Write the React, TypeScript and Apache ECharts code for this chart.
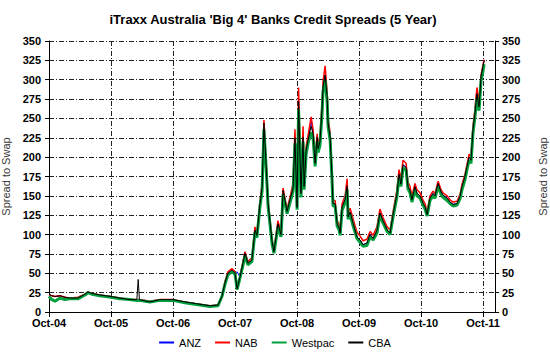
import React, { useEffect, useRef } from "react";
import * as echarts from "echarts";

const dates: string[] = [
  "2004-10-01","2004-10-18","2004-11-06","2004-12-05","2005-01-04","2005-02-02","2005-03-19","2005-04-30","2005-05-17","2005-06-10",
  "2005-07-27","2005-10-01","2005-11-23","2006-01-21","2006-03-01","2006-03-09","2006-03-16","2006-05-17","2006-07-15","2006-10-01",
  "2006-12-10","2007-02-08","2007-05-06","2007-06-22","2007-07-15","2007-08-03","2007-08-20","2007-09-13","2007-10-01","2007-10-13",
  "2007-10-30","2007-11-17","2007-11-29","2007-12-16","2008-01-09","2008-01-27","2008-02-08","2008-02-26","2008-03-08","2008-03-19",
  "2008-04-01","2008-04-13","2008-05-06","2008-05-17","2008-06-10","2008-06-28","2008-07-10","2008-08-03","2008-08-20","2008-09-08",
  "2008-09-19","2008-10-01","2008-10-10","2008-10-24","2008-11-06","2008-11-12","2008-11-24","2008-12-05","2008-12-23","2009-01-04",
  "2009-01-16","2009-01-28","2009-02-03","2009-02-14","2009-02-26","2009-03-02","2009-03-14","2009-03-26","2009-04-01","2009-04-13",
  "2009-04-24","2009-04-30","2009-05-12","2009-05-24","2009-06-05","2009-06-11","2009-06-23","2009-07-10","2009-07-22","2009-07-28",
  "2009-08-09","2009-08-27","2009-09-19","2009-10-07","2009-10-24","2009-11-17","2009-12-05","2009-12-23","2010-01-15","2010-02-02",
  "2010-02-20","2010-03-14","2010-04-01","2010-04-18","2010-05-11","2010-05-23","2010-06-04","2010-06-16","2010-07-04","2010-07-15",
  "2010-07-27","2010-08-08","2010-08-26","2010-09-07","2010-09-25","2010-10-13","2010-10-24","2010-11-06","2010-11-23","2010-12-10",
  "2010-12-22","2011-01-10","2011-01-27","2011-02-08","2011-03-02","2011-03-19","2011-04-06","2011-04-30","2011-05-17","2011-05-29",
  "2011-06-16","2011-06-28","2011-07-10","2011-07-21","2011-08-02","2011-08-14","2011-08-20","2011-08-26","2011-09-07","2011-09-13",
  "2011-09-19","2011-10-01","2011-10-07",
];

const anz: number[] = [
  23,21,20,21,19,18,18,23,26,24,
  22,20,18,16,16,16,16,13,16,16,
  13,11,8,9,20,38,50,54,50,52,
  45,63,76,63,67,106,99,140,160,244,
  192,140,91,78,114,100,157,130,145,160,
  225,135,272,153,226,162,209,222,247,230,
  192,226,211,220,261,291,306,278,244,226,
  175,140,140,114,109,102,136,145,163,123,
  129,114,97,93,87,89,100,95,105,128,
  118,106,102,125,152,178,165,190,187,162,
  157,145,162,153,150,140,136,126,147,153,
  150,166,155,151,147,142,139,140,149,162,
  175,188,200,196,235,257,270,282,265,282,
  304,318,325,
];

const nab: number[] = [
  22,21,20,21,19,18,19,23,26,24,
  22,20,18,16,16,16,16,14,16,16,
  13,11,8,9,21,40,52,56,52,31,
  46,65,78,65,70,110,101,143,165,248,
  196,143,94,80,118,103,160,133,148,166,
  236,138,290,156,240,166,214,228,252,236,
  196,230,216,226,268,298,318,284,250,232,
  180,144,144,118,113,106,140,150,172,128,
  134,120,103,98,92,94,104,99,110,133,
  122,110,106,129,158,184,172,196,192,168,
  162,150,166,158,154,144,140,130,150,156,
  153,169,158,154,150,145,142,143,152,165,
  178,191,204,200,240,262,278,290,272,286,
  306,320,326,
];

const westpac: number[] = [
  20,16,14,18,16,17,17,22,25,23,
  21,19,17,16,15,15,15,13,15,15,
  12,10,7,8,20,36,48,52,49,29,
  44,60,73,61,65,103,96,136,156,236,
  188,136,88,76,110,97,152,127,141,156,
  218,132,262,148,220,158,204,218,232,225,
  188,220,206,215,255,285,300,272,240,222,
  172,137,137,111,106,99,132,141,158,120,
  126,111,95,90,85,86,97,93,102,125,
  115,104,100,122,149,174,162,186,183,159,
  154,142,158,150,147,138,133,124,144,150,
  147,162,152,148,144,140,137,138,146,158,
  171,184,196,192,230,252,265,276,260,277,
  298,312,320,
];

const cba: number[] = [
  23,21,20,21,19,18,18,23,26,24,
  22,20,18,16,16,42,16,13,16,16,
  13,11,8,9,20,38,50,54,50,30,
  45,63,76,63,67,106,99,140,160,244,
  192,140,91,78,114,100,157,130,145,160,
  225,135,272,153,226,162,209,222,240,230,
  192,226,211,220,261,291,306,278,244,226,
  175,140,140,114,109,102,136,145,163,123,
  129,114,97,93,87,89,100,95,105,128,
  118,106,102,125,152,178,165,190,187,162,
  157,145,162,153,150,140,136,126,147,153,
  150,166,155,151,147,142,139,140,149,162,
  175,188,200,196,235,257,270,282,265,282,
  304,318,325,
];

const seriesNames = ["ANZ", "NAB", "Westpac", "CBA"];
const seriesColors = ["#0000ff", "#ff0000", "#00a03c", "#000000"];
const seriesWidths = [1, 1.5, 3, 1];
const seriesValues = [anz, nab, westpac, cba];

const yTickMin = 0;
const yTickMax = 350;
const yTickStep = 25;
const xMonthsMax = 86.3; // axis extends a little past Oct-11

function monthsSinceOct04(d: string): number {
  const [y, m, day] = d.split("-").map(Number);
  return (y - 2004) * 12 + (m - 10) + (day - 1) / 30.44;
}

function xLabel(v: number): string {
  if (Math.abs(v % 12) > 1e-6) return "";
  const yr = 4 + Math.round(v / 12);
  return "Oct-" + String(yr).padStart(2, "0");
}

const FONT = "'Liberation Sans', Arial, sans-serif";
const gridDash = [5, 2, 1, 2];

export default function App() {
  const ref = useRef<HTMLDivElement>(null);
  useEffect(() => {
    document.body.style.margin = "0";
    if (!ref.current) return;
    const chart = echarts.init(ref.current, undefined, { renderer: "svg" });
    const yAxisBase = {
      type: "value",
      min: yTickMin,
      max: yTickMax,
      interval: yTickStep,
      name: "Spread to Swap",
      nameLocation: "middle",
      nameRotate: 90,
      nameTextStyle: { fontFamily: FONT, fontSize: 11, color: "#3a3a3a" },
      axisLine: { show: true, lineStyle: { color: "#000", width: 1 } },
      axisTick: { show: true, length: 4, lineStyle: { color: "#000" } },
      axisLabel: { fontFamily: FONT, fontSize: 11, fontWeight: "bold", color: "#000" },
    };
    chart.setOption({
      animation: false,
      backgroundColor: "#fff",
      title: {
        text: "iTraxx Australia 'Big 4' Banks Credit Spreads (5 Year)",
        left: 268,
        textAlign: "center",
        top: 8,
        textStyle: { fontFamily: FONT, fontSize: 13, fontWeight: "bold", color: "#000" },
      },
      legend: {
        bottom: 5,
        left: "center",
        itemWidth: 15,
        itemHeight: 2,
        itemGap: 14,
        data: seriesNames.map((n) => ({ name: n, icon: "rect" })),
        textStyle: { fontFamily: FONT, fontSize: 11, color: "#000" },
      },
      grid: {
        left: 49,
        right: 55,
        top: 41,
        bottom: 46,
        containLabel: false,
        outerBoundsMode: "none",
      },
      xAxis: {
        type: "value",
        min: 0,
        max: xMonthsMax,
        interval: 12,
        axisLine: { show: true, onZero: false, lineStyle: { color: "#000", width: 1 } },
        axisTick: { show: true, length: 5, lineStyle: { color: "#000" } },
        axisLabel: {
          formatter: xLabel,
          showMaxLabel: false,
          margin: 5,
          fontFamily: FONT,
          fontSize: 11,
          fontWeight: "bold",
          color: "#000",
        },
        splitLine: { show: true, lineStyle: { color: "#222", width: 1, type: gridDash } },
      },
      yAxis: [
        {
          ...yAxisBase,
          position: "left",
          nameGap: 31,
          axisLabel: { ...yAxisBase.axisLabel, margin: 8 },
          splitLine: { show: true, lineStyle: { color: "#222", width: 1, type: gridDash } },
        },
        {
          ...yAxisBase,
          position: "right",
          nameGap: 42,
          axisLabel: { ...yAxisBase.axisLabel, margin: 7 },
          splitLine: { show: false },
        },
      ],
      series: seriesNames.map((name, i) => ({
        name,
        type: "line",
        yAxisIndex: 0,
        symbol: "none",
        showSymbol: false,
        z: 2 + i,
        lineStyle: { color: seriesColors[i], width: seriesWidths[i] },
        itemStyle: { color: seriesColors[i] },
        data: dates.map((d, k) => [monthsSinceOct04(d), seriesValues[i][k]]),
      })),
    });
    return () => chart.dispose();
  }, []);
  return <div ref={ref} style={{ width: 550, height: 358 }} />;
}
